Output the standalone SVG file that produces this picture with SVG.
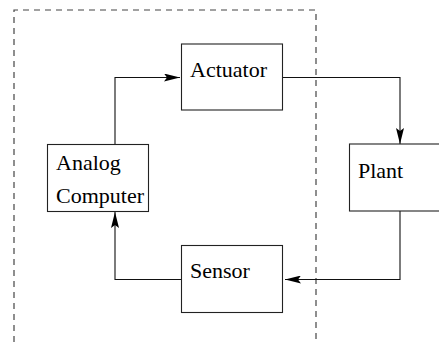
<svg xmlns="http://www.w3.org/2000/svg" width="439" height="342" viewBox="0 0 439 342">
  <style>
    .box { fill: #ffffff; stroke: #222222; stroke-width: 1.1; }
    .label { font-size: 22px; fill: #000000; }
    .wire { fill: none; stroke: #111111; stroke-width: 1.1; }
    .frame { fill: none; stroke: #444444; stroke-width: 1.2; stroke-dasharray: 6 5; }
  </style>
  <defs>
    <marker id="arrow" viewBox="0 0 16 8" refX="16" refY="4" markerWidth="16" markerHeight="8" markerUnits="userSpaceOnUse" orient="auto">
      <path d="M0,0 L16,4 L0,8 L3,4 Z" fill="#000000"/>
    </marker>
  </defs>

  <!-- dashed boundary around the controller side (open at the bottom) -->
  <path class="frame" d="M14,342 L14,10 L316,10 L316,342"/>

  <g id="connectors">
    <path class="wire" d="M282,77.5 L400,77.5 L400,144" marker-end="url(#arrow)"/>
    <path class="wire" d="M400,211 L400,279.5 L285,279.5" marker-end="url(#arrow)"/>
    <path class="wire" d="M181,279.5 L115,279.5 L115,212" marker-end="url(#arrow)"/>
    <path class="wire" d="M115,144 L115,77.5 L180,77.5" marker-end="url(#arrow)"/>
  </g>

  <g font-family="'Liberation Serif', 'Times New Roman', Times, serif">
    <g id="actuator">
      <rect class="box" x="181.5" y="44" width="101" height="66"/>
      <text class="label" x="190" y="77">Actuator</text>
    </g>

    <g id="plant">
      <rect class="box" x="349.5" y="144" width="100" height="67"/>
      <text class="label" x="358" y="178">Plant</text>
    </g>

    <g id="sensor">
      <rect class="box" x="181.5" y="245.5" width="101" height="67"/>
      <text class="label" x="190" y="278">Sensor</text>
    </g>

    <g id="analog-computer">
      <rect class="box" x="47.5" y="144.5" width="101" height="67"/>
      <text class="label" x="56" y="170">Analog</text>
      <text class="label" x="56" y="202.5">Computer</text>
    </g>
  </g>
</svg>
